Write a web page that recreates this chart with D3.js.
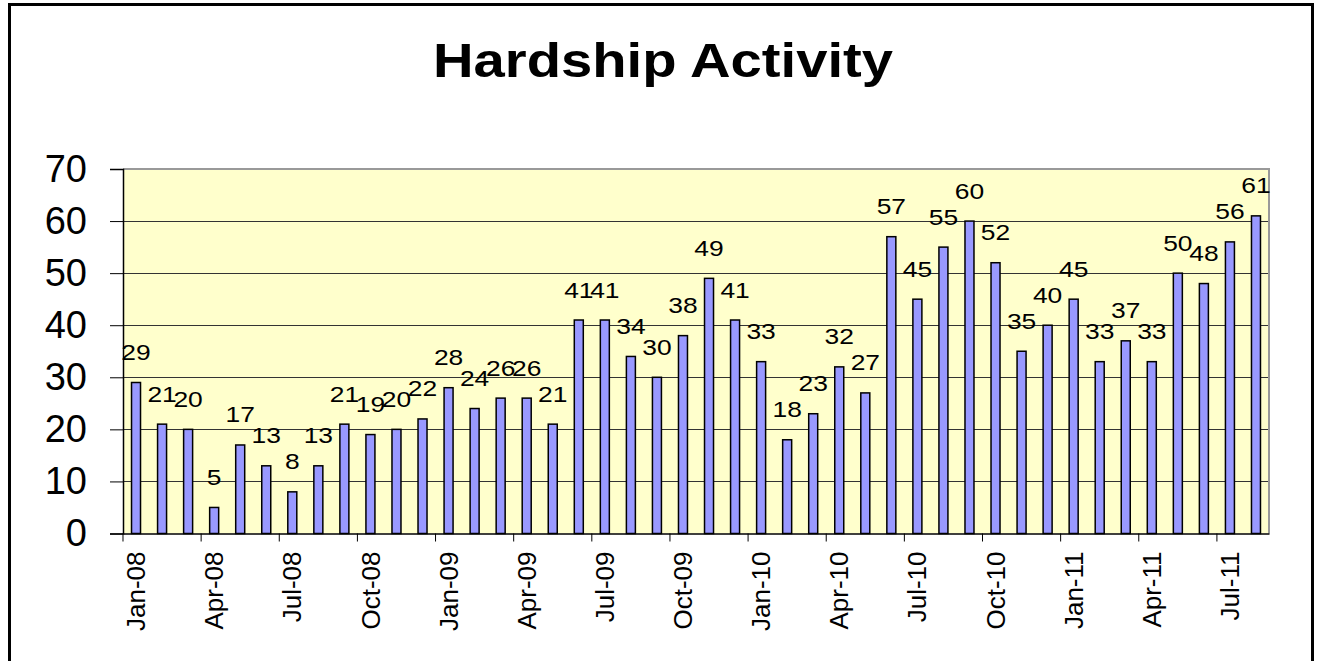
<!DOCTYPE html>
<html>
<head>
<meta charset="utf-8">
<script src="https://cdn.jsdelivr.net/npm/d3@7"></script>
<style>
  body { margin: 0; background: #fff; }
  svg { display: block; font-family: "Liberation Sans", Arial, sans-serif; }
</style>
</head>
<body>
<svg width="1319" height="661"></svg>
<script>
var months = ['Jan-08','Feb-08','Mar-08','Apr-08','May-08','Jun-08','Jul-08','Aug-08','Sep-08','Oct-08','Nov-08','Dec-08',
              'Jan-09','Feb-09','Mar-09','Apr-09','May-09','Jun-09','Jul-09','Aug-09','Sep-09','Oct-09','Nov-09','Dec-09',
              'Jan-10','Feb-10','Mar-10','Apr-10','May-10','Jun-10','Jul-10','Aug-10','Sep-10','Oct-10','Nov-10','Dec-10',
              'Jan-11','Feb-11','Mar-11','Apr-11','May-11','Jun-11','Jul-11','Aug-11'];
var counts = [29,21,20,5,17,13,8,13,21,19,20,22,
              28,24,26,26,21,41,41,34,30,38,49,41,
              33,18,23,32,27,57,45,55,60,52,35,40,
              45,33,37,33,50,48,56,61];
var xTickLabels = months.filter(function(m, i) { return i % 3 === 0; });
var yTicks = [0,10,20,30,40,50,60,70];

var plotLeft = 123, plotRight = 1269, plotTop = 169, plotBottom = 533.5;

var svg = d3.select('svg');

// outer chart frame
svg.append('rect')
    .attr('x', 9.5).attr('y', 4.5)
    .attr('width', 1303).attr('height', 700)
    .attr('fill', 'none')
    .attr('stroke', '#000')
    .attr('stroke-width', 3);

svg.append('text')
    .attr('x', 663).attr('y', 77)
    .attr('text-anchor', 'middle')
    .attr('font-size', 49)
    .attr('font-weight', 'bold')
    .attr('textLength', 460)
    .attr('lengthAdjust', 'spacingAndGlyphs')
    .text('Hardship Activity');

var x = d3.scaleBand().domain(months).range([plotLeft, plotRight]);
var y = d3.scaleLinear().domain([0, 70]).range([plotBottom, plotTop]);

// plot background
svg.append('rect')
    .attr('x', plotLeft).attr('y', plotTop)
    .attr('width', plotRight - plotLeft).attr('height', plotBottom - plotTop)
    .attr('fill', '#ffffcc');

// gridlines
svg.append('g').selectAll('line')
    .data(yTicks.slice(1, -1))
    .join('line')
    .attr('x1', plotLeft).attr('x2', plotRight)
    .attr('y1', function(d) { return Math.round(y(d)) + 0.5; })
    .attr('y2', function(d) { return Math.round(y(d)) + 0.5; })
    .attr('stroke', '#333')
    .attr('stroke-width', 1);

// top and right plot border (gray)
svg.append('path')
    .attr('d', 'M' + plotLeft + ',' + plotTop + 'H' + plotRight + 'V' + plotBottom)
    .attr('fill', 'none')
    .attr('stroke', '#999')
    .attr('stroke-width', 2);

var barW = 9;
svg.append('g').selectAll('rect')
    .data(counts)
    .join('rect')
    .attr('x', function(d, i) { return x(months[i]) + x.bandwidth() / 2 - barW / 2; })
    .attr('y', function(d) { return y(d); })
    .attr('width', barW)
    .attr('height', function(d) { return plotBottom - y(d); })
    .attr('fill', '#9999ff')
    .attr('stroke', '#000')
    .attr('stroke-width', 1.5);

// data labels (the source font is drawn a bit wide)
svg.append('g').selectAll('text')
    .data(counts)
    .join('text')
    .attr('transform', function(d, i) {
        return 'translate(' + (x(months[i]) + x.bandwidth() / 2) + ',' + (y(d) - 22.5) + ') scale(1.2,1)';
    })
    .attr('text-anchor', 'middle')
    .attr('font-size', 22)
    .text(function(d) { return d; });

// y axis
var yAxis = svg.append('g')
    .attr('transform', 'translate(' + plotLeft + ',0)')
    .call(d3.axisLeft(y).tickValues(yTicks).tickSize(13).tickPadding(23));
yAxis.select('.domain').attr('stroke', '#000').attr('stroke-width', 1.5);
yAxis.selectAll('.tick line').attr('stroke', '#000');
yAxis.selectAll('.tick text')
    .attr('font-family', '"Liberation Sans", Arial, sans-serif')
    .attr('font-size', 38)
    .attr('fill', '#000');

// x axis: ticks on band edges, labels on band centres
var xAxis = svg.append('g')
    .attr('transform', 'translate(0,' + plotBottom + ')')
    .call(d3.axisBottom(x).tickValues(xTickLabels).tickSize(8).tickSizeOuter(0));
xAxis.select('.domain').attr('stroke', '#000').attr('stroke-width', 1.5);
xAxis.selectAll('.tick line')
    .attr('stroke', '#000')
    .attr('transform', 'translate(' + (-x.bandwidth() / 2) + ',0)');
xAxis.selectAll('.tick text')
    .attr('font-family', '"Liberation Sans", Arial, sans-serif')
    .attr('font-size', 26)
    .attr('fill', '#000')
    .attr('text-anchor', 'end')
    .attr('dy', '0.35em')
    .attr('transform', 'translate(0,18) rotate(-90)')
    .attr('x', 0).attr('y', 0);
</script>
</body>
</html>
